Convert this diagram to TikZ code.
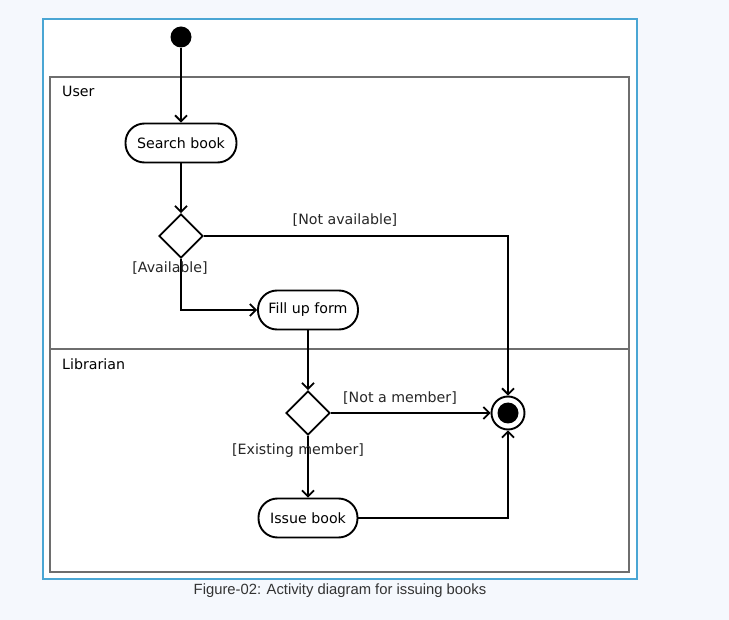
\documentclass[tikz,border=0pt]{standalone}
\usepackage{fontspec}
\setmainfont{DejaVu Sans}
\newfontfamily\captionfont{Liberation Sans}
\usepackage{xcolor}
\usetikzlibrary{arrows.meta,shapes.geometric}
\definecolor{pagebg}{HTML}{F5F8FD}
\definecolor{frameblue}{HTML}{4AA6D4}
\definecolor{lanegray}{HTML}{6E6E6E}
\definecolor{captiongray}{HTML}{333333}

\begin{document}
\begin{tikzpicture}[x=1pt,y=-1pt,
    ->,>={Straight Barb[length=6pt,width=12pt,line width=1.8pt]},
    every node/.style={font=\fontsize{14.2}{17}\selectfont},
    action/.style={rectangle, rounded corners=19pt, draw, line width=1.9pt,
                   fill=white, minimum height=39pt, inner sep=0pt},
    choice/.style={diamond, draw, line width=1.9pt, fill=white,
                   minimum width=44pt, minimum height=44pt, inner sep=0pt},
    guard/.style={inner sep=1pt, text=black!85},
    flow/.style={line width=1.9pt}]

    \useasboundingbox[fill=pagebg] (0,0) rectangle (729,620);
    \draw[-, frameblue, fill=white, line width=1.1pt] (43,19) rectangle (637,579);

    % swimlanes
    \draw[-, lanegray, line width=1.6pt] (50,77) rectangle (629,572);
    \draw[-, lanegray, line width=1.6pt] (50,349) -- (629,349);
    \node[anchor=west, inner sep=0pt] (user) at (62,91) {User};
    \node[anchor=west, inner sep=0pt] (librarian) at (62,364) {Librarian};

    % nodes
    \node[circle, fill=black, minimum size=21pt, inner sep=0pt] (start) at (181,37) {};
    \node[action, minimum width=111pt] (search) at (181,143) {Search book};
    \node[choice] (avail) at (181,236) {};
    \node[action, minimum width=100pt] (form) at (308,310) {Fill up form};
    \node[choice] (member) at (308,413) {};
    \node[action, minimum width=99pt] (issue) at (308,518) {Issue book};
    \node[circle, draw, line width=1.9pt, fill=white, minimum size=33pt, inner sep=0pt] (final) at (508,413) {};
    \node[circle, fill=black, minimum size=21pt, inner sep=0pt] at (final.center) {};

    \coordinate (bend1) at (181,310);
    \coordinate (bend2) at (508,236);
    \coordinate (bend3) at (508,518);

    % flows
    \draw[flow] (start) -- (search);
    \draw[flow] (search) -- (avail.north);
    \draw[flow] (avail.south) -- (bend1) -- (form.west);
    \draw[flow] (avail.east) -- (bend2) -- (final.north);
    \draw[flow] (form) -- (member.north);
    \draw[flow] (member.east) -- (final.west);
    \draw[flow] (member.south) -- (issue.north);
    \draw[flow] (issue.east) -- (bend3) -- (final.south);

    % guards
    \node[guard] (na) at (345,220) {[Not available]};
    \node[guard] (av) at (170,268) {[Available]};
    \node[guard] (nm) at (400,398) {[Not a member]};
    \node[guard] (em) at (298,451) {[Existing member]};

    \node[font=\captionfont\fontsize{14.8}{17}\selectfont, text=captiongray] (caption) at (340,591) {Figure-02: Activity diagram for issuing books};

\end{tikzpicture}
\end{document}
